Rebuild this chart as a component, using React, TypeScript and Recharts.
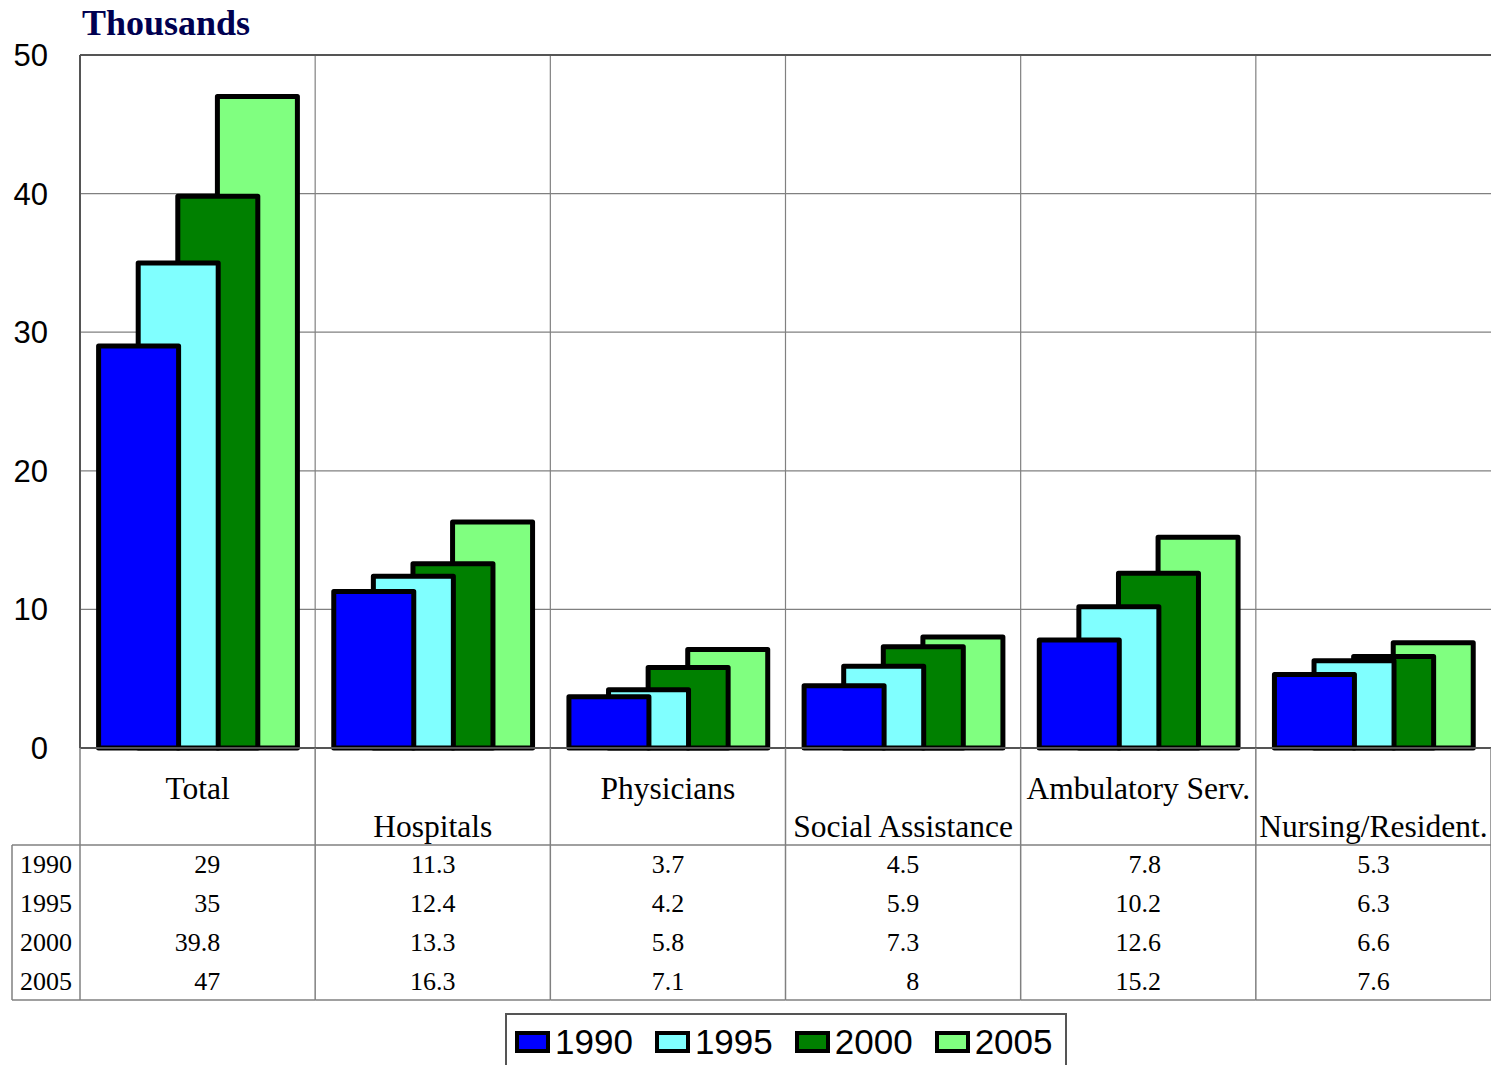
import React from "react";
import { BarChart, Bar, XAxis, YAxis, CartesianGrid, Legend, ReferenceLine } from "recharts";

const categories = [
  "Total",
  "Hospitals",
  "Physicians",
  "Social Assistance",
  "Ambulatory Serv.",
  "Nursing/Resident.",
];
const years = ["1990", "1995", "2000", "2005"];
const v1990 = [29, 11.3, 3.7, 4.5, 7.8, 5.3];
const v1995 = [35, 12.4, 4.2, 5.9, 10.2, 6.3];
const v2000 = [39.8, 13.3, 5.8, 7.3, 12.6, 6.6];
const v2005 = [47, 16.3, 7.1, 8, 15.2, 7.6];
const yTicks = [0, 10, 20, 30, 40, 50];

const series = [v1990, v1995, v2000, v2005];
const COLORS = ["#0000ff", "#80ffff", "#008000", "#80ff80"];

const W = 1491;
const H = 1065;
const Y_AXIS_W = 80;
const TOP = 55;
const BOTTOM = 65;
const TABLE_H = 252;
const PLOT_W = W - Y_AXIS_W;
const BAND = PLOT_W / categories.length;
// bars overlap: each one is shifted this fraction of a category to the right
const STEP = 39.6 / BAND;

const SERIF = '"Liberation Serif", "Times New Roman", serif';
const SANS = '"Liberation Sans", Arial, sans-serif';
const LINE = "#808080";

const data = categories.map((name, i) => {
  const row: Record<string, string | number> = { name, pos: i + 0.5 };
  years.forEach((yr, k) => (row["y" + yr] = series[k][i]));
  return row;
});

const gridX = categories.slice(1).map((_, i) => Y_AXIS_W + BAND * (i + 1));

// rough width of a number in 26px Times, used to right-align a column
const numWidth = (s: string) => s.split("").reduce((w, c) => w + (c === "." ? 6.5 : 13), 0);

function TableTick(props: any) {
  const { x, y, payload } = props;
  const i = payload.index;
  const left = x - BAND / 2;
  const right = x + BAND / 2;
  const labelY = y + (i % 2 === 1 ? 89 : 51);
  const vals = series.map((s) => String(s[i]));
  const colRight = x + Math.max(...vals.map(numWidth)) / 2;
  return (
    <g>
      <line x1={right} x2={right} y1={y} y2={y + TABLE_H} stroke={LINE} strokeWidth={1.5} />
      <line x1={left} x2={right} y1={y + 97} y2={y + 97} stroke={LINE} strokeWidth={1.5} />
      <line x1={left} x2={right} y1={y + TABLE_H} y2={y + TABLE_H} stroke={LINE} strokeWidth={1.5} />
      <text x={x} y={labelY} textAnchor="middle" fontFamily={SERIF} fontSize={31.5} fill="#000">
        {payload.value}
      </text>
      {vals.map((v, k) => (
        <text
          key={k}
          x={colRight}
          y={y + 125 + k * 39}
          textAnchor="end"
          fontFamily={SERIF}
          fontSize={26}
          fill="#000"
        >
          {v}
        </text>
      ))}
      {i === 0 && (
        <g>
          <line x1={left} x2={left} y1={y} y2={y + TABLE_H} stroke={LINE} strokeWidth={1.5} />
          <line x1={12} x2={12} y1={y + 97} y2={y + TABLE_H} stroke={LINE} strokeWidth={1.5} />
          <line x1={12} x2={left} y1={y + 97} y2={y + 97} stroke={LINE} strokeWidth={1.5} />
          <line x1={12} x2={left} y1={y + TABLE_H} y2={y + TABLE_H} stroke={LINE} strokeWidth={1.5} />
          {years.map((yr, k) => (
            <text key={yr} x={20} y={y + 125 + k * 39} fontFamily={SERIF} fontSize={26} fill="#000">
              {yr}
            </text>
          ))}
        </g>
      )}
    </g>
  );
}

function LegendBox() {
  return (
    <div
      style={{
        boxSizing: "border-box",
        width: 562,
        height: 58,
        border: "2px solid #555",
        background: "#fff",
        display: "flex",
        alignItems: "center",
        paddingLeft: 8,
      }}
    >
      {years.map((yr, k) => (
        <span key={yr} style={{ display: "inline-flex", alignItems: "center", marginRight: 22 }}>
          <span
            style={{
              display: "inline-block",
              width: 27,
              height: 14,
              background: COLORS[k],
              border: "4px solid #000",
              marginRight: 5,
            }}
          />
          <span style={{ fontFamily: SANS, fontSize: 35, lineHeight: "40px", color: "#000" }}>{yr}</span>
        </span>
      ))}
    </div>
  );
}

export default function App() {
  // draw 2005 first so the earlier years sit in front
  const order = [3, 2, 1, 0];
  return (
    <div style={{ position: "absolute", left: 0, top: 0, width: W, height: H, background: "#fff" }}>
      <div
        style={{
          position: "absolute",
          left: 82,
          top: 5,
          fontFamily: SERIF,
          fontWeight: "bold",
          fontSize: 36,
          lineHeight: 1,
          color: "#000050",
          zIndex: 2,
        }}
      >
        Thousands
      </div>
      <BarChart width={W} height={H} data={data} margin={{ top: TOP, right: 0, bottom: BOTTOM, left: 0 }}>
        <CartesianGrid xAxisId="cat" stroke={LINE} strokeWidth={1.2} verticalPoints={gridX} />
        <XAxis
          xAxisId="cat"
          dataKey="name"
          type="category"
          interval={0}
          height={TABLE_H}
          tickLine={false}
          tickSize={0}
          tickMargin={0}
          axisLine={{ stroke: "#555", strokeWidth: 2 }}
          tick={<TableTick />}
        />
        {order.map((k) => {
          const shift = (k - 1.5) * STEP;
          return (
            <XAxis
              key={"ax" + k}
              xAxisId={"b" + k}
              dataKey="pos"
              type="number"
              domain={[-shift, categories.length - shift]}
              allowDataOverflow
              height={0}
              hide
            />
          );
        })}
        <YAxis
          domain={[0, 50]}
          ticks={yTicks}
          width={Y_AXIS_W}
          tickLine={false}
          tickSize={0}
          tickMargin={32}
          axisLine={{ stroke: "#555", strokeWidth: 2 }}
          tick={{ fill: "#000", fontSize: 31, fontFamily: SANS }}
        />
        <ReferenceLine xAxisId="cat" y={50} stroke="#555" strokeWidth={2} />
        {order.map((k) => (
          <Bar
            key={years[k]}
            xAxisId={"b" + k}
            dataKey={"y" + years[k]}
            name={years[k]}
            fill={COLORS[k]}
            stroke="#000"
            strokeWidth={5}
            strokeLinejoin="round"
            barSize={80}
            isAnimationActive={false}
          />
        ))}
        <Legend
          layout="horizontal"
          verticalAlign="middle"
          align="center"
          wrapperStyle={{ position: "absolute", left: 505, top: 1013, width: 562 }}
          content={() => <LegendBox />}
        />
      </BarChart>
    </div>
  );
}
